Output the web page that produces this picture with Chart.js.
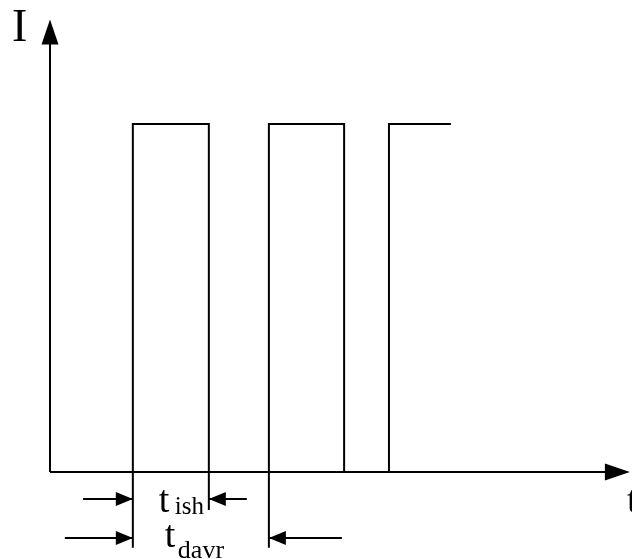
<!DOCTYPE html>
<html>
<head>
<meta charset="utf-8">
<script src="https://cdn.jsdelivr.net/npm/chart.js@4/dist/chart.umd.min.js"></script>
<style>
  body { margin: 0; background: #fff; }
  canvas { display: block; }
</style>
</head>
<body>
<canvas id="pulseChart" width="632" height="559"></canvas>
<script>
// pulse train (time in arbitrary units, current normalised)
const times   = [2.18, 2.18, 4.18, 4.18, 5.76, 5.76, 7.74, 7.74, 8.92, 8.92, 10.55];
const current = [0,    1,    1,    0,    0,    1,    1,    0,    0,    1,    1];

// witness lines dropped under the time axis
const witnessX   = [2.18, 4.18, 5.76];
const witnessLen = [-0.218, -0.109, -0.218];

// dimension labels: [from, to]
const tIsh  = [2.18, 4.18];
const tDavr = [2.18, 5.76];

const axisTipX = 15.26;
const axisTipY = 1.30;

const ctx = document.getElementById("pulseChart").getContext("2d");

const waveData = times.map((t, i) => ({ x: t, y: current[i] }));
const witnessData = [];
witnessX.forEach((x, i) => {
  witnessData.push({ x, y: 0 }, { x, y: witnessLen[i] }, { x: null, y: null });
});

function arrowHead(c, x, y, dir, len, half) {
  // dir: 'right', 'left', 'up'
  c.beginPath();
  if (dir === 'right') { c.moveTo(x, y); c.lineTo(x - len, y - half); c.lineTo(x - len, y + half); }
  if (dir === 'left')  { c.moveTo(x, y); c.lineTo(x + len, y - half); c.lineTo(x + len, y + half); }
  if (dir === 'up')    { c.moveTo(x, y); c.lineTo(x - half, y + len); c.lineTo(x + half, y + len); }
  c.closePath();
  c.fill();
}

function dimArrow(c, xs, ys, from, to, yVal) {
  const y = Math.round(ys.getPixelForValue(yVal));
  const x1 = xs.getPixelForValue(from), x2 = xs.getPixelForValue(to);
  c.beginPath();
  c.moveTo(x1, y); c.lineTo(x2, y);
  c.stroke();
  arrowHead(c, x2, y, x2 > x1 ? 'right' : 'left', 17, 7);
}

const decorations = {
  id: 'decorations',
  afterDatasetsDraw(chart) {
    const c = chart.ctx, xs = chart.scales.x, ys = chart.scales.y;
    const ox = Math.round(xs.getPixelForValue(0)), oy = Math.round(ys.getPixelForValue(0));
    c.save();
    c.strokeStyle = '#000';
    c.fillStyle = '#000';
    c.lineWidth = 2;

    // axes
    const tipY = ys.getPixelForValue(axisTipY), tipX = xs.getPixelForValue(axisTipX);
    c.beginPath();
    c.moveTo(ox, oy); c.lineTo(ox, tipY + 20);
    c.moveTo(ox, oy); c.lineTo(tipX - 20, oy);
    c.stroke();
    arrowHead(c, ox, tipY, 'up', 25, 8.5);
    arrowHead(c, tipX, oy, 'right', 25, 8.5);

    // dimension arrows
    c.lineWidth = 2;
    dimArrow(c, xs, ys, 0.87, tIsh[0], -0.078);
    dimArrow(c, xs, ys, 5.18, tIsh[1], -0.078);
    dimArrow(c, xs, ys, 0.39, tDavr[0], -0.19);
    dimArrow(c, xs, ys, 7.68, tDavr[1], -0.19);

    // labels
    c.textBaseline = 'alphabetic';
    c.textAlign = 'left';
    c.font = '46px "Liberation Serif", "Times New Roman", serif';
    c.fillText('I', 12, 41);

    const a = xs.getPixelForValue(tIsh[0]);
    c.font = '38px "Liberation Serif", serif';
    c.fillText('t', a + 26, 512);
    c.fillText('t', a + 32, 547);
    c.fillText('t', 627, 512);
    c.font = '25px "Liberation Serif", serif';
    c.fillText('ish', a + 42, 514);
    c.font = '26px "Liberation Serif", serif';
    c.fillText('davr', a + 45, 558);
    c.restore();
  }
};

new Chart(ctx, {
  type: 'scatter',
  data: {
    datasets: [
      {
        data: waveData,
        showLine: true,
        borderColor: '#000',
        borderWidth: 2,
        pointRadius: 0,
        tension: 0,
        clip: false
      },
      {
        data: witnessData,
        showLine: true,
        spanGaps: false,
        borderColor: '#000',
        borderWidth: 2,
        pointRadius: 0,
        clip: false
      }
    ]
  },
  plugins: [decorations],
  options: {
    responsive: false,
    animation: false,
    layout: { padding: 0 },
    plugins: { legend: { display: false }, tooltip: { enabled: false } },
    scales: {
      x: { type: 'linear', display: false, min: -50 / 38, max: 582 / 38 },
      y: { type: 'linear', display: false, min: -0.25, max: 472 / 348 }
    }
  }
});
</script>
</body>
</html>
